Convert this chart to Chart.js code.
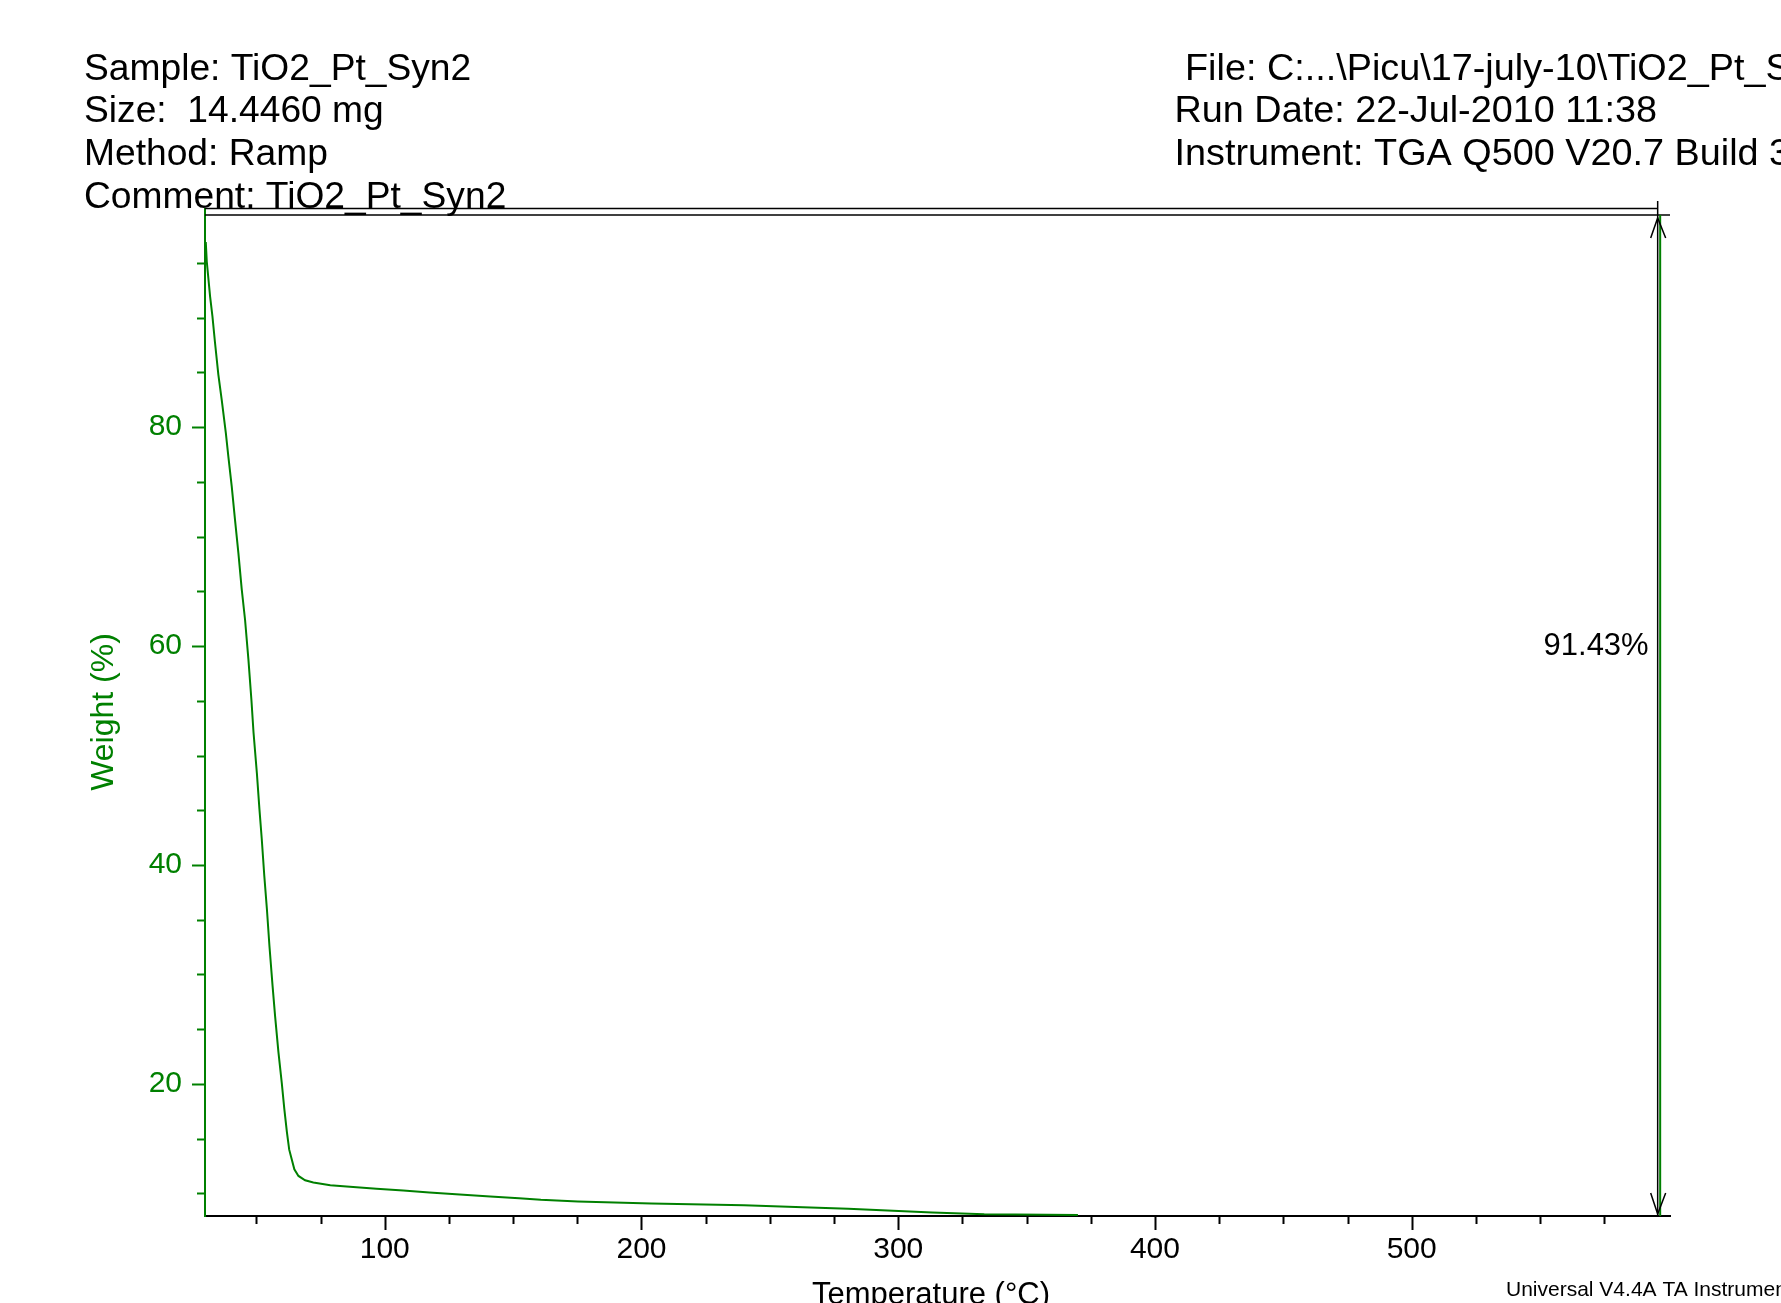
<!DOCTYPE html>
<html>
<head>
<meta charset="utf-8">
<script src="https://cdn.jsdelivr.net/npm/chart.js@4.4.1/dist/chart.umd.min.js"></script>
<style>
  html, body { margin: 0; padding: 0; background: #ffffff; }
  #c { display: block; }
</style>
</head>
<body>
<canvas id="c" width="1781" height="1303"></canvas>
<script>
// ---- data ----
const temps = [30.3, 30.7, 32.0, 32.9, 33.9, 35.2, 36.5, 38.1, 39.1, 40.4, 41.7, 43.0, 44.3, 45.6, 46.9,
  48.1, 48.9, 50.2, 51.2, 52.1, 53.1, 54.1, 55.1, 56.3, 57.3, 58.6, 59.9, 60.9, 61.9, 62.8, 63.8, 64.8,
  66.4, 69.0, 72.2, 78.8, 87.7, 96.8, 107.2, 117.4, 129.2, 141.1, 152.3, 160.8, 175.2, 203.8, 239.9,
  262.9, 280.5, 295.8, 313.2, 333.5, 370.0];
const weights = [96.9, 95.1, 91.9, 90.1, 87.7, 84.8, 82.5, 79.5, 77.3, 74.6, 71.5, 68.5, 65.2, 62.4, 58.8,
  55.0, 52.1, 48.4, 45.1, 42.4, 39.0, 36.0, 32.6, 29.0, 26.2, 22.9, 20.1, 17.7, 15.6, 14.0, 13.1, 12.2,
  11.6, 11.2, 11.0, 10.75, 10.6, 10.42, 10.26, 10.08, 9.9, 9.73, 9.57, 9.42, 9.27, 9.08, 8.93,
  8.75, 8.6, 8.44, 8.26, 8.1, 8.04];
const xTickLabels = [100, 200, 300, 400, 500];
const yTickLabels = [20, 40, 60, 80];
const xRange = [30, 600.6];
const yRange = [7.94, 99.37];
const xTickRange = [50, 575];
const yTickRange = [10, 95];
const stepTemp = 595.8;
const stepLabel = '91.43%';
const stepLabelLevel = 59.95;
const headerLeft = ['Sample: TiO2_Pt_Syn2', 'Size:  14.4460 mg', 'Method: Ramp', 'Comment: TiO2_Pt_Syn2'];
const headerRight = [' File: C:...\\Picu\\17-july-10\\TiO2_Pt_Syn2', 'Run Date: 22-Jul-2010 11:38', 'Instrument: TGA Q500 V20.7 Build 32'];
const xTitle = 'Temperature (°C)';
const yTitle = 'Weight (%)';
const footer = 'Universal V4.4A TA Instruments';

const FONT = '"Liberation Sans", Arial, Helvetica, sans-serif';
const GREEN = '#008000';

const points = temps.map((t, i) => ({ x: t, y: weights[i] }));

const decorPlugin = {
  id: 'decor',
  afterDraw(chart) {
    const ctx = chart.ctx;
    const xs = chart.scales.x, ys = chart.scales.y;
    const area = chart.chartArea;
    ctx.save();
    // tick marks
    ctx.lineWidth = 2;
    ctx.strokeStyle = '#000';
    for (let t = xTickRange[0]; t <= xTickRange[1]; t += 25) {
      const px = Math.round(xs.getPixelForValue(t)) + 0.5;
      const len = (t % 100 === 0) ? 14 : 8;
      ctx.beginPath(); ctx.moveTo(px, area.bottom); ctx.lineTo(px, area.bottom + len); ctx.stroke();
    }
    ctx.strokeStyle = GREEN;
    for (let v = yTickRange[0]; v <= yTickRange[1]; v += 5) {
      const py = Math.round(ys.getPixelForValue(v)) + 0.5;
      const len = (v % 20 === 0) ? 13 : 8;
      ctx.beginPath(); ctx.moveTo(area.left, py); ctx.lineTo(area.left - len, py); ctx.stroke();
    }
    // y axis small extension to upper line
    ctx.beginPath(); ctx.moveTo(area.left, area.top); ctx.lineTo(area.left, area.top - 7); ctx.stroke();

    // top double line
    const ax = xs.getPixelForValue(stepTemp);
    ctx.strokeStyle = '#000';
    ctx.lineWidth = 1.5;
    ctx.beginPath(); ctx.moveTo(area.left, area.top - 6.5); ctx.lineTo(ax, area.top - 6.5); ctx.stroke();
    ctx.beginPath(); ctx.moveTo(area.left, area.top); ctx.lineTo(area.right, area.top); ctx.stroke();

    // step annotation arrow
    const yTop = ys.getPixelForValue(yRange[1]);
    const yBot = ys.getPixelForValue(yRange[0]);
    ctx.strokeStyle = GREEN;
    ctx.lineWidth = 2;
    ctx.beginPath(); ctx.moveTo(ax + 2.5, yTop); ctx.lineTo(ax + 2.5, yBot); ctx.stroke();
    ctx.strokeStyle = '#000';
    ctx.lineWidth = 1.5;
    ctx.beginPath(); ctx.moveTo(ax, yTop - 14); ctx.lineTo(ax, yBot); ctx.stroke();
    ctx.beginPath();
    ctx.moveTo(ax - 7, yTop + 23); ctx.lineTo(ax, yTop + 3); ctx.lineTo(ax + 8, yTop + 23);
    ctx.moveTo(ax - 7, yBot - 23); ctx.lineTo(ax, yBot - 2); ctx.lineTo(ax + 8, yBot - 23);
    ctx.stroke();

    ctx.fillStyle = '#000';
    ctx.font = '31px ' + FONT;
    ctx.textAlign = 'right';
    ctx.textBaseline = 'middle';
    ctx.fillText(stepLabel, ax - 9, ys.getPixelForValue(stepLabelLevel));

    // header
    ctx.textAlign = 'left';
    ctx.textBaseline = 'alphabetic';
    ctx.font = '37.2px ' + FONT;
    headerLeft.forEach((s, i) => ctx.fillText(s, 84, 79.5 + i * 42.8));
    ctx.font = '37.8px ' + FONT;
    headerRight.forEach((s, i) => ctx.fillText(s, 1174.5, 79.5 + i * 42.8));

    // axis titles
    ctx.font = '31px ' + FONT;
    ctx.textAlign = 'center';
    ctx.fillText(xTitle, 931, 1304);
    ctx.save();
    ctx.translate(104.5, 712);
    ctx.rotate(-Math.PI / 2);
    ctx.fillStyle = GREEN;
    ctx.font = '32px ' + FONT;
    ctx.textBaseline = 'middle';
    ctx.fillText(yTitle, 0, 0);
    ctx.restore();

    // footer
    ctx.fillStyle = '#000';
    ctx.textAlign = 'left';
    ctx.font = '21px ' + FONT;
    ctx.fillText(footer, 1506, 1295.5);
    ctx.restore();
  }
};

new Chart(document.getElementById('c'), {
  type: 'scatter',
  data: {
    datasets: [{
      data: points,
      showLine: true,
      borderColor: GREEN,
      borderWidth: 2,
      pointRadius: 0,
      tension: 0,
      fill: false
    }]
  },
  options: {
    responsive: false,
    animation: false,
    devicePixelRatio: 1,
    layout: { padding: { left: 0, right: 111, top: 215, bottom: 0 } },
    plugins: { legend: { display: false }, tooltip: { enabled: false } },
    scales: {
      x: {
        type: 'linear',
        min: xRange[0], max: xRange[1],
        border: { display: true, color: '#000', width: 2 },
        grid: { display: false, drawTicks: false },
        ticks: {
          stepSize: 25, includeBounds: false, autoSkip: false, maxRotation: 0,
          color: '#000', font: { family: FONT, size: 30 }, padding: 16,
          callback: v => xTickLabels.includes(Math.round(v)) && Math.abs(v - Math.round(v)) < 1e-6 ? String(Math.round(v)) : ''
        },
        afterFit(s) { s.height = 87; }
      },
      y: {
        type: 'linear',
        min: yRange[0], max: yRange[1],
        border: { display: true, color: GREEN, width: 2 },
        grid: { display: false, drawTicks: false },
        ticks: {
          stepSize: 5, includeBounds: false, autoSkip: false,
          color: GREEN, font: { family: FONT, size: 30 }, padding: 23,
          callback: v => yTickLabels.includes(Math.round(v)) && Math.abs(v - Math.round(v)) < 1e-6 ? String(Math.round(v)) : ''
        },
        afterFit(s) { s.width = 205; }
      }
    }
  },
  plugins: [decorPlugin]
});
</script>
</body>
</html>
